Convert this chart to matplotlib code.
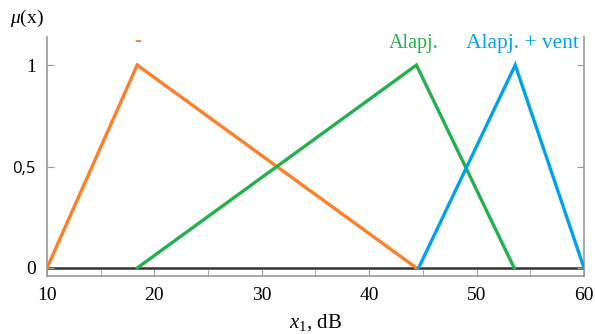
import matplotlib
matplotlib.use("Agg")
import matplotlib.pyplot as plt

# Data
orange_x = [10, 18.4, 44.4]
orange_y = [0, 1, 0]
green_x = [18.4, 44.4, 53.5]
green_y = [0, 1, 0]
blue_x = [44.6, 53.6, 60]
blue_y = [0, 1, 0]
x_ticks = [10, 20, 30, 40, 50, 60]
x_minor = [15, 25, 35, 45, 55]
y_ticks = [0, 0.5, 1]
y_ticklabels = ["0", "0,5", "1"]
labels = ["-", "Alapj.", "Alapj. + vent"]

c_orange = "#FF7F27"
c_green = "#22B14C"
c_blue = "#00A2E8"

plt.rcParams['font.family'] = ['Liberation Serif', 'DejaVu Serif']
plt.rcParams['mathtext.fontset'] = 'custom'
plt.rcParams['mathtext.rm'] = 'Liberation Serif'
plt.rcParams['mathtext.it'] = 'Liberation Serif:italic'
plt.rcParams['mathtext.bf'] = 'Liberation Serif:bold'

fig = plt.figure(figsize=(5.95, 3.34), dpi=100)
ax = fig.add_axes([0.079, 0.174, 0.9025, 0.715])
ax.set_xlim(10, 60)
ax.set_ylim(-0.039, 1.138)

ax.plot([10, 60], [0, 0], color="#333333", lw=1.8, zorder=1)
ax.plot(orange_x, orange_y, color=c_orange, lw=2.4, solid_joinstyle='miter', zorder=2)
ax.plot(green_x, green_y, color=c_green, lw=2.4, solid_joinstyle='miter', zorder=3)
ax.plot(blue_x, blue_y, color=c_blue, lw=2.4, solid_joinstyle='miter', zorder=4)

ax.text(orange_x[1], 1.07, labels[0], color=c_orange, ha='center', va='bottom',
        fontsize=15, fontweight='bold')
ax.text(green_x[1] - 0.3, 1.06, labels[1], color=c_green, ha='center', va='bottom', fontsize=14.5)
ax.text(blue_x[1] + 0.7, 1.06, labels[2], color=c_blue, ha='center', va='bottom', fontsize=15.5)

for s in ['left', 'right', 'bottom']:
    ax.spines[s].set_color('#999999')
    ax.spines[s].set_linewidth(1.2)
ax.spines['top'].set_visible(False)

ax.set_xticks(x_ticks)
ax.set_xticks(x_minor, minor=True)
ax.set_xticklabels([str(t) for t in x_ticks], fontsize=14)
ax.set_yticks(y_ticks)
ax.set_yticklabels(y_ticklabels, fontsize=14)
ax.tick_params(axis='x', which='both', direction='in', length=5, color='#999999', pad=8)
ax.tick_params(axis='y', which='both', direction='in', length=5, color='#999999', pad=8,
               right=True)
ax.yaxis.get_ticklabels()[1].set_family(['Open Sans', 'DejaVu Sans'])
ax.yaxis.get_ticklabels()[1].set_fontsize(12)

fig.text(0.045, 0.945, r"$\mu$(x)", ha='center', va='center', fontsize=14)
fig.text(0.53, 0.035, r"$x_{\mathit{1}}$, dB", ha='center', va='center', fontsize=15)

fig.savefig("out.png", dpi=100)
